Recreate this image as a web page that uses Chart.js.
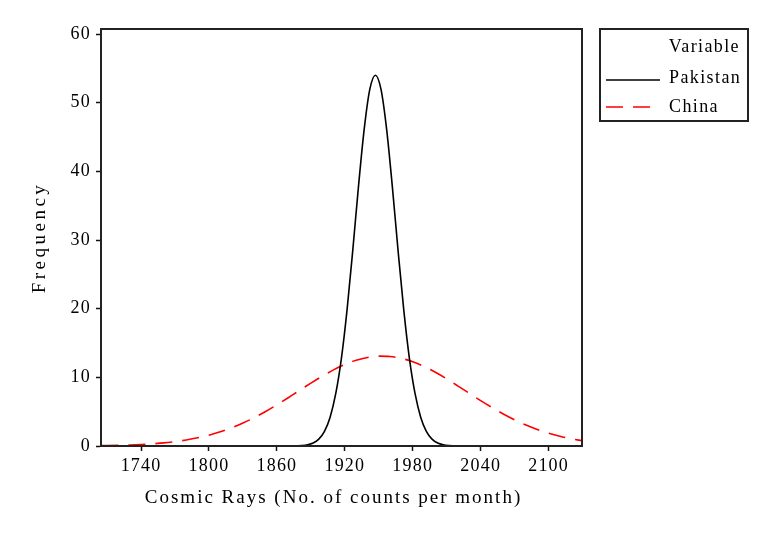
<!DOCTYPE html>
<html>
<head>
<meta charset="utf-8">
<script src="https://cdn.jsdelivr.net/npm/chart.js@4.4.0/dist/chart.umd.min.js"></script>
<style>
  html, body { margin: 0; padding: 0; background: #ffffff; }
  #wrap { width: 776px; height: 533px; }
</style>
</head>
<body>
<div id="wrap"><canvas id="c" width="776" height="533"></canvas></div>
<script>
// ---- data ----
const seriesNames = ['Pakistan', 'China'];
const legendTitle = 'Variable';
const xTitle = 'Cosmic Rays (No. of counts per month)';
const yTitle = 'Frequency';

const xTicks = [1740, 1800, 1860, 1920, 1980, 2040, 2100];
const yTicks = [0, 10, 20, 30, 40, 50, 60];

const pakistanX = [1877, 1882, 1887, 1892, 1897, 1902, 1907, 1912, 1917, 1922,
                   1927, 1932, 1937, 1942, 1947, 1952, 1957, 1962, 1967, 1972,
                   1977, 1982, 1987, 1992, 1997, 2002, 2007, 2012, 2017];
const pakistanY = [0.02, 0.06, 0.17, 0.43, 1.00, 2.13, 4.20, 7.65, 12.8, 19.9,
                   28.5, 37.7, 46.0, 51.9, 54.0, 51.9, 46.0, 37.7, 28.5, 19.9,
                   12.8, 7.65, 4.20, 2.13, 1.00, 0.43, 0.17, 0.06, 0.02];

const chinaX = [1705, 1710, 1720, 1730, 1740, 1750, 1760, 1770, 1780, 1790,
                1800, 1810, 1820, 1830, 1840, 1850, 1860, 1870, 1880, 1890,
                1900, 1910, 1920, 1930, 1940, 1950, 1960, 1970, 1980, 1990,
                2000, 2010, 2020, 2030, 2040, 2050, 2060, 2070, 2080, 2090,
                2100, 2110, 2120, 2130];
const chinaY = [0.05, 0.06, 0.10, 0.15, 0.22, 0.32, 0.45, 0.64, 0.88, 1.19,
                1.58, 2.07, 2.65, 3.34, 4.13, 5.03, 6.00, 7.03, 8.10, 9.15,
                10.16, 11.09, 11.87, 12.49, 12.90, 13.09, 13.04, 12.76, 12.27, 11.58,
                10.73, 9.77, 8.73, 7.67, 6.61, 5.60, 4.66, 3.80, 3.05, 2.41,
                1.86, 1.41, 1.05, 0.77];

const xMin = 1704.6, xMax = 2129.5;
const yMin = 0, yMax = 60.73;

// ---- styling ----
const FONT = "'Liberation Serif', 'Times New Roman', serif";

// allow letter spacing / small offset on axis labels and titles (reference font is wide)
const SP = Chart.Scale.prototype;
const origDrawTitle = SP.drawTitle;
const origDrawLabels = SP.drawLabels;
SP.drawTitle = function () {
  const c = this.ctx; c.save();
  c.letterSpacing = (this.options.title.letterSpacing || 0) + 'px';
  c.translate(this.options.title.offsetX || 0, 0);
  origDrawTitle.apply(this, arguments);
  c.restore();
};
SP.drawLabels = function () {
  const c = this.ctx; c.save();
  c.letterSpacing = (this.options.ticks.letterSpacing || 0) + 'px';
  origDrawLabels.apply(this, arguments);
  c.restore();
};

const frame = {
  id: 'frame',
  afterDraw(chart) {
    const { ctx, chartArea: a } = chart;
    ctx.save();
    ctx.strokeStyle = '#222';
    ctx.lineWidth = 2;
    ctx.strokeRect(a.left, a.top, a.right - a.left, a.bottom - a.top);
    ctx.restore();
  }
};

const legendBox = {
  id: 'legendBox',
  afterDraw(chart) {
    const ctx = chart.ctx;
    ctx.save();
    ctx.strokeStyle = '#222';
    ctx.lineWidth = 2;
    ctx.strokeRect(600, 29, 148, 92);
    ctx.font = '18px ' + FONT;
    ctx.fillStyle = '#000';
    ctx.letterSpacing = '1.4px';
    ctx.textBaseline = 'middle';
    ctx.textAlign = 'right';
    ctx.fillText(legendTitle, 740, 47);
    ctx.textAlign = 'left';
    const rowsText = [78, 107];
    const rowsLine = [80, 107];
    chart.data.datasets.forEach((ds, i) => {
      ctx.save();
      ctx.strokeStyle = ds.borderColor;
      ctx.lineWidth = ds.borderWidth;
      ctx.setLineDash(ds.borderDash || []);
      ctx.beginPath();
      ctx.moveTo(606, rowsLine[i]);
      ctx.lineTo(660, rowsLine[i]);
      ctx.stroke();
      ctx.restore();
      ctx.fillText(ds.label, 669, rowsText[i]);
    });
    ctx.restore();
  }
};

new Chart(document.getElementById('c'), {
  type: 'scatter',
  data: {
    datasets: [
      {
        label: seriesNames[0],
        data: pakistanX.map((x, i) => ({ x: x, y: pakistanY[i] })),
        showLine: true,
        borderColor: '#000000',
        borderWidth: 1.6,
        pointRadius: 0,
        cubicInterpolationMode: 'monotone'
      },
      {
        label: seriesNames[1],
        data: chinaX.map((x, i) => ({ x: x, y: chinaY[i] })),
        showLine: true,
        borderColor: '#ff0000',
        borderWidth: 1.6,
        borderDash: [17, 10],
        pointRadius: 0,
        cubicInterpolationMode: 'monotone'
      }
    ]
  },
  options: {
    responsive: false,
    animation: false,
    devicePixelRatio: 1,
    layout: { padding: { left: 0, top: 29, right: 194, bottom: 0 } },
    plugins: { legend: { display: false }, tooltip: { enabled: false } },
    scales: {
      x: {
        type: 'linear',
        min: xMin, max: xMax,
        afterBuildTicks: s => { s.ticks = xTicks.map(v => ({ value: v })); },
        afterFit: s => { s.height = 87; },
        grid: { display: true, drawOnChartArea: false, drawTicks: true, tickLength: 5, tickColor: '#111', tickWidth: 1.5 },
        border: { display: true, color: '#222', width: 2 },
        ticks: { color: '#000', font: { family: FONT, size: 18 }, padding: 4, maxRotation: 0, autoSkip: false,
                 letterSpacing: 1.2, callback: v => String(v) },
        title: { display: true, text: xTitle, color: '#000', font: { family: FONT, size: 19 },
                 padding: { top: 0, bottom: 24 }, letterSpacing: 2, offsetX: -8 }
      },
      y: {
        type: 'linear',
        min: yMin, max: yMax,
        afterBuildTicks: s => { s.ticks = yTicks.map(v => ({ value: v })); },
        afterFit: s => { s.width = 101; },
        grid: { display: true, drawOnChartArea: false, drawTicks: true, tickLength: 5, tickColor: '#111', tickWidth: 1.5 },
        border: { display: true, color: '#222', width: 2 },
        ticks: { color: '#000', font: { family: FONT, size: 18 }, padding: 5, autoSkip: false,
                 letterSpacing: 1.2, callback: v => String(v) },
        title: { display: true, text: yTitle, color: '#000', font: { family: FONT, size: 19 },
                 padding: { top: 29, bottom: 0 }, letterSpacing: 3.5 }
      }
    }
  },
  plugins: [frame, legendBox]
});
</script>
</body>
</html>
